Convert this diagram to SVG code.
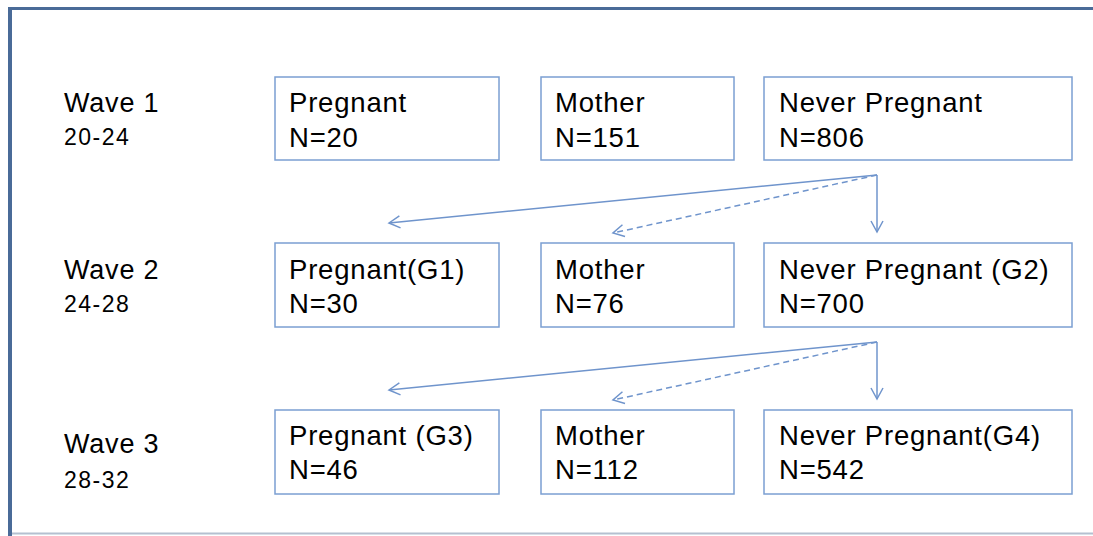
<svg xmlns="http://www.w3.org/2000/svg" width="1093" height="536" viewBox="0 0 1093 536">
<defs>
<style>
.box{fill:#fff;stroke:#7b9fd2;stroke-width:1.5}
.t{font-family:"Liberation Sans",Arial,sans-serif;font-size:27.5px;fill:#000;letter-spacing:0.8px}
.w{font-family:"Liberation Sans",Arial,sans-serif;font-size:27px;fill:#000;letter-spacing:0.8px}
.a{font-family:"Liberation Sans",Arial,sans-serif;font-size:23px;fill:#000;letter-spacing:1.5px}
.c{fill:none;stroke:#6f94cc;stroke-width:1.5}
.d{stroke-dasharray:6 4}
</style>
<marker id="ah" markerWidth="14" markerHeight="14" refX="12" refY="7" orient="auto" markerUnits="userSpaceOnUse">
<path d="M1,1 L12,7 L1,13" fill="none" stroke="#6f94cc" stroke-width="1.5"/>
</marker>
</defs>
<rect x="0" y="0" width="1093" height="536" fill="#fff"/>
<g id="frame">
<line x1="12" y1="533.5" x2="1093" y2="533.5" stroke="#b4c0d0" stroke-width="2"/>
<line x1="10" y1="8.5" x2="1093" y2="8.5" stroke="#4a6b98" stroke-width="3"/>
<line x1="10" y1="7" x2="10" y2="536" stroke="#4a6b98" stroke-width="4"/>
</g>
<g id="labels">
<text class="w" x="64" y="112">Wave 1</text>
<text class="a" x="64" y="145">20-24</text>
<text class="w" x="64" y="279">Wave 2</text>
<text class="a" x="64" y="312">24-28</text>
<text class="w" x="64" y="453">Wave 3</text>
<text class="a" x="64" y="488">28-32</text>
</g>
<g id="w1-pregnant"><rect class="box" x="275" y="77" width="224" height="83"/><text class="t" x="289" y="112">Pregnant</text><text class="t" x="289" y="147">N=20</text></g>
<g id="w1-mother"><rect class="box" x="541" y="77" width="193" height="83"/><text class="t" x="555" y="112">Mother</text><text class="t" x="555" y="147">N=151</text></g>
<g id="w1-never"><rect class="box" x="764" y="77" width="308" height="83"/><text class="t" x="779" y="112">Never Pregnant</text><text class="t" x="779" y="147">N=806</text></g>
<g id="w2-pregnant"><rect class="box" x="275" y="243" width="224" height="84"/><text class="t" x="289" y="279">Pregnant(G1)</text><text class="t" x="289" y="313">N=30</text></g>
<g id="w2-mother"><rect class="box" x="541" y="243" width="193" height="84"/><text class="t" x="555" y="279">Mother</text><text class="t" x="555" y="313">N=76</text></g>
<g id="w2-never"><rect class="box" x="764" y="243" width="308" height="84"/><text class="t" x="779" y="279">Never Pregnant (G2)</text><text class="t" x="779" y="313">N=700</text></g>
<g id="w3-pregnant"><rect class="box" x="275" y="410" width="224" height="84"/><text class="t" x="289" y="445">Pregnant (G3)</text><text class="t" x="289" y="479">N=46</text></g>
<g id="w3-mother"><rect class="box" x="541" y="410" width="193" height="84"/><text class="t" x="555" y="445">Mother</text><text class="t" x="555" y="479">N=112</text></g>
<g id="w3-never"><rect class="box" x="764" y="410" width="308" height="84"/><text class="t" x="779" y="445">Never Pregnant(G4)</text><text class="t" x="779" y="479">N=542</text></g>
<g id="connectors">
<line class="c" x1="877" y1="175" x2="389" y2="223" marker-end="url(#ah)"/>
<line class="c d" x1="877" y1="175" x2="613" y2="233" marker-end="url(#ah)"/>
<line class="c" x1="877" y1="175" x2="877" y2="232" marker-end="url(#ah)"/>
<line class="c" x1="877" y1="342" x2="389" y2="390" marker-end="url(#ah)"/>
<line class="c d" x1="877" y1="342" x2="613" y2="400" marker-end="url(#ah)"/>
<line class="c" x1="877" y1="342" x2="877" y2="399" marker-end="url(#ah)"/>
</g>
</svg>
